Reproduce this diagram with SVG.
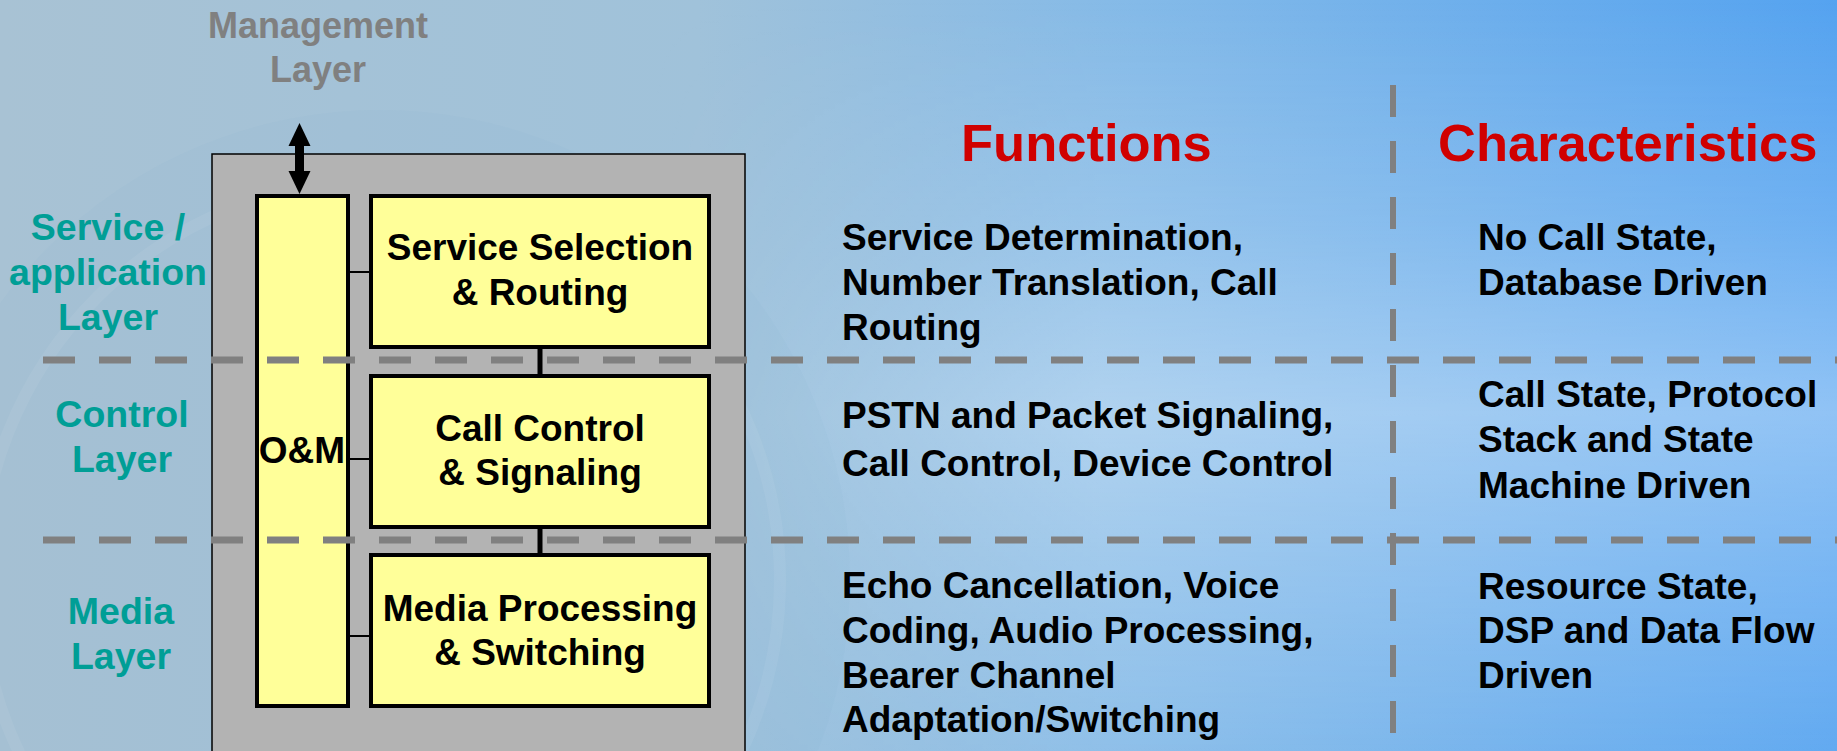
<svg xmlns="http://www.w3.org/2000/svg" width="1837" height="751" viewBox="0 0 1837 751">
  <defs>
    <linearGradient id="bgH" x1="0" y1="0" x2="1" y2="0">
      <stop offset="0" stop-color="#A8C2D4"/>
      <stop offset="0.38" stop-color="#A0C2DA"/>
      <stop offset="0.62" stop-color="#84BAE8"/>
      <stop offset="1" stop-color="#55A3F0"/>
    </linearGradient>
    <linearGradient id="bandV" x1="0" y1="0" x2="0" y2="1">
      <stop offset="0" stop-color="#FFFFFF" stop-opacity="0"/>
      <stop offset="0.3" stop-color="#FFFFFF" stop-opacity="0.15"/>
      <stop offset="0.55" stop-color="#FFFFFF" stop-opacity="0.35"/>
      <stop offset="0.75" stop-color="#FFFFFF" stop-opacity="0.22"/>
      <stop offset="1" stop-color="#FFFFFF" stop-opacity="0.08"/>
    </linearGradient>
    <linearGradient id="maskH" x1="0" y1="0" x2="1" y2="0">
      <stop offset="0" stop-color="#000"/>
      <stop offset="0.35" stop-color="#000"/>
      <stop offset="0.6" stop-color="#fff"/>
      <stop offset="1" stop-color="#fff"/>
    </linearGradient>
    <mask id="rightMask">
      <rect x="0" y="0" width="1837" height="751" fill="url(#maskH)"/>
    </mask>
    <style>
      .lbl { font-family: "Liberation Sans", Arial, sans-serif; font-weight: bold; }
      .layer { fill: #009E96; font-size: 37.5px; text-anchor: middle; }
      .mgmt { fill: #808080; font-size: 36px; text-anchor: middle; }
      .head { fill: #D00000; font-size: 52.5px; }
      .desc { fill: #000; font-size: 37px; }
      .boxt { fill: #000; font-size: 37px; text-anchor: middle; }
      .ybox { fill: #FFFF99; stroke: #000; stroke-width: 4; }
      .dash { stroke: #808080; stroke-width: 7; stroke-dasharray: 32 24; fill: none; }
      .conn { stroke: #000; fill: none; }
    </style>
  </defs>

  <!-- background -->
  <rect x="0" y="0" width="1837" height="751" fill="url(#bgH)"/>
  <rect x="0" y="0" width="1837" height="751" fill="url(#bandV)" mask="url(#rightMask)"/>
  <circle cx="380" cy="580" r="470" fill="#6FA6C8" fill-opacity="0.06"/>
  <circle cx="380" cy="580" r="400" fill="none" stroke="#FFFFFF" stroke-opacity="0.06" stroke-width="12"/>

  <!-- management label -->
  <g id="management-label">
    <text class="lbl mgmt" x="318" y="38">Management</text>
    <text class="lbl mgmt" x="318" y="82">Layer</text>
  </g>

  <!-- layer labels -->
  <g id="service-layer-label">
    <text class="lbl layer" x="108" y="240">Service /</text>
    <text class="lbl layer" x="108" y="285">application</text>
    <text class="lbl layer" x="108" y="330">Layer</text>
  </g>
  <g id="control-layer-label">
    <text class="lbl layer" x="122" y="427">Control</text>
    <text class="lbl layer" x="122" y="472">Layer</text>
  </g>
  <g id="media-layer-label">
    <text class="lbl layer" x="121" y="624">Media</text>
    <text class="lbl layer" x="121" y="669">Layer</text>
  </g>

  <!-- container -->
  <g id="container">
    <rect x="212" y="154" width="533" height="620" fill="#B3B3B3" stroke="#000" stroke-width="1.5"/>
  </g>

  <g id="om">
    <rect class="ybox" x="257" y="196" width="91" height="510"/>
    <text class="lbl boxt" x="302" y="463">O&amp;M</text>
  </g>

  <!-- dashed separators -->
  <g id="separators">
    <line class="dash" x1="43" y1="360" x2="1837" y2="360"/>
    <line class="dash" x1="43" y1="540" x2="1837" y2="540"/>
    <line class="dash" x1="1393" y1="85" x2="1393" y2="751" style="stroke-width:6"/>
  </g>

  <!-- connectors -->
  <g id="connectors">
    <line class="conn" x1="348" y1="272" x2="371" y2="272" stroke-width="2"/>
    <line class="conn" x1="348" y1="459" x2="371" y2="459" stroke-width="2"/>
    <line class="conn" x1="348" y1="636" x2="371" y2="636" stroke-width="2"/>
    <line class="conn" x1="540" y1="347" x2="540" y2="375" stroke-width="5"/>
    <line class="conn" x1="540" y1="527" x2="540" y2="554" stroke-width="5"/>
    <line class="conn" x1="299.5" y1="144" x2="299.5" y2="173" stroke-width="9"/>
    <path d="M299.5,123 L310.5,146 L288.5,146 Z" fill="#000"/>
    <path d="M299.5,194 L310.5,171 L288.5,171 Z" fill="#000"/>
  </g>

  <g id="service-selection">
    <rect class="ybox" x="371" y="196" width="338" height="151"/>
    <text class="lbl boxt" x="540" y="260">Service Selection</text>
    <text class="lbl boxt" x="540" y="305">&amp; Routing</text>
  </g>
  <g id="call-control">
    <rect class="ybox" x="371" y="376" width="338" height="151"/>
    <text class="lbl boxt" x="540" y="441">Call Control</text>
    <text class="lbl boxt" x="540" y="485">&amp; Signaling</text>
  </g>
  <g id="media-processing">
    <rect class="ybox" x="371" y="555" width="338" height="151"/>
    <text class="lbl boxt" x="540" y="621">Media Processing</text>
    <text class="lbl boxt" x="540" y="665">&amp; Switching</text>
  </g>

  <!-- headers -->
  <g id="headers">
    <text class="lbl head" x="961" y="161">Functions</text>
    <text class="lbl head" x="1438" y="161">Characteristics</text>
  </g>

  <!-- functions -->
  <g id="functions">
    <text class="lbl desc" x="842" y="250">Service Determination,</text>
    <text class="lbl desc" x="842" y="295">Number Translation, Call</text>
    <text class="lbl desc" x="842" y="340">Routing</text>
    <text class="lbl desc" x="842" y="428">PSTN and Packet Signaling,</text>
    <text class="lbl desc" x="842" y="476">Call Control, Device Control</text>
    <text class="lbl desc" x="842" y="598">Echo Cancellation, Voice</text>
    <text class="lbl desc" x="842" y="643">Coding, Audio Processing,</text>
    <text class="lbl desc" x="842" y="688">Bearer Channel</text>
    <text class="lbl desc" x="842" y="732">Adaptation/Switching</text>
  </g>

  <!-- characteristics -->
  <g id="characteristics">
    <text class="lbl desc" x="1478" y="250">No Call State,</text>
    <text class="lbl desc" x="1478" y="295">Database Driven</text>
    <text class="lbl desc" x="1478" y="407">Call State, Protocol</text>
    <text class="lbl desc" x="1478" y="452">Stack and State</text>
    <text class="lbl desc" x="1478" y="498">Machine Driven</text>
    <text class="lbl desc" x="1478" y="599">Resource State,</text>
    <text class="lbl desc" x="1478" y="643">DSP and Data Flow</text>
    <text class="lbl desc" x="1478" y="688">Driven</text>
  </g>
</svg>
